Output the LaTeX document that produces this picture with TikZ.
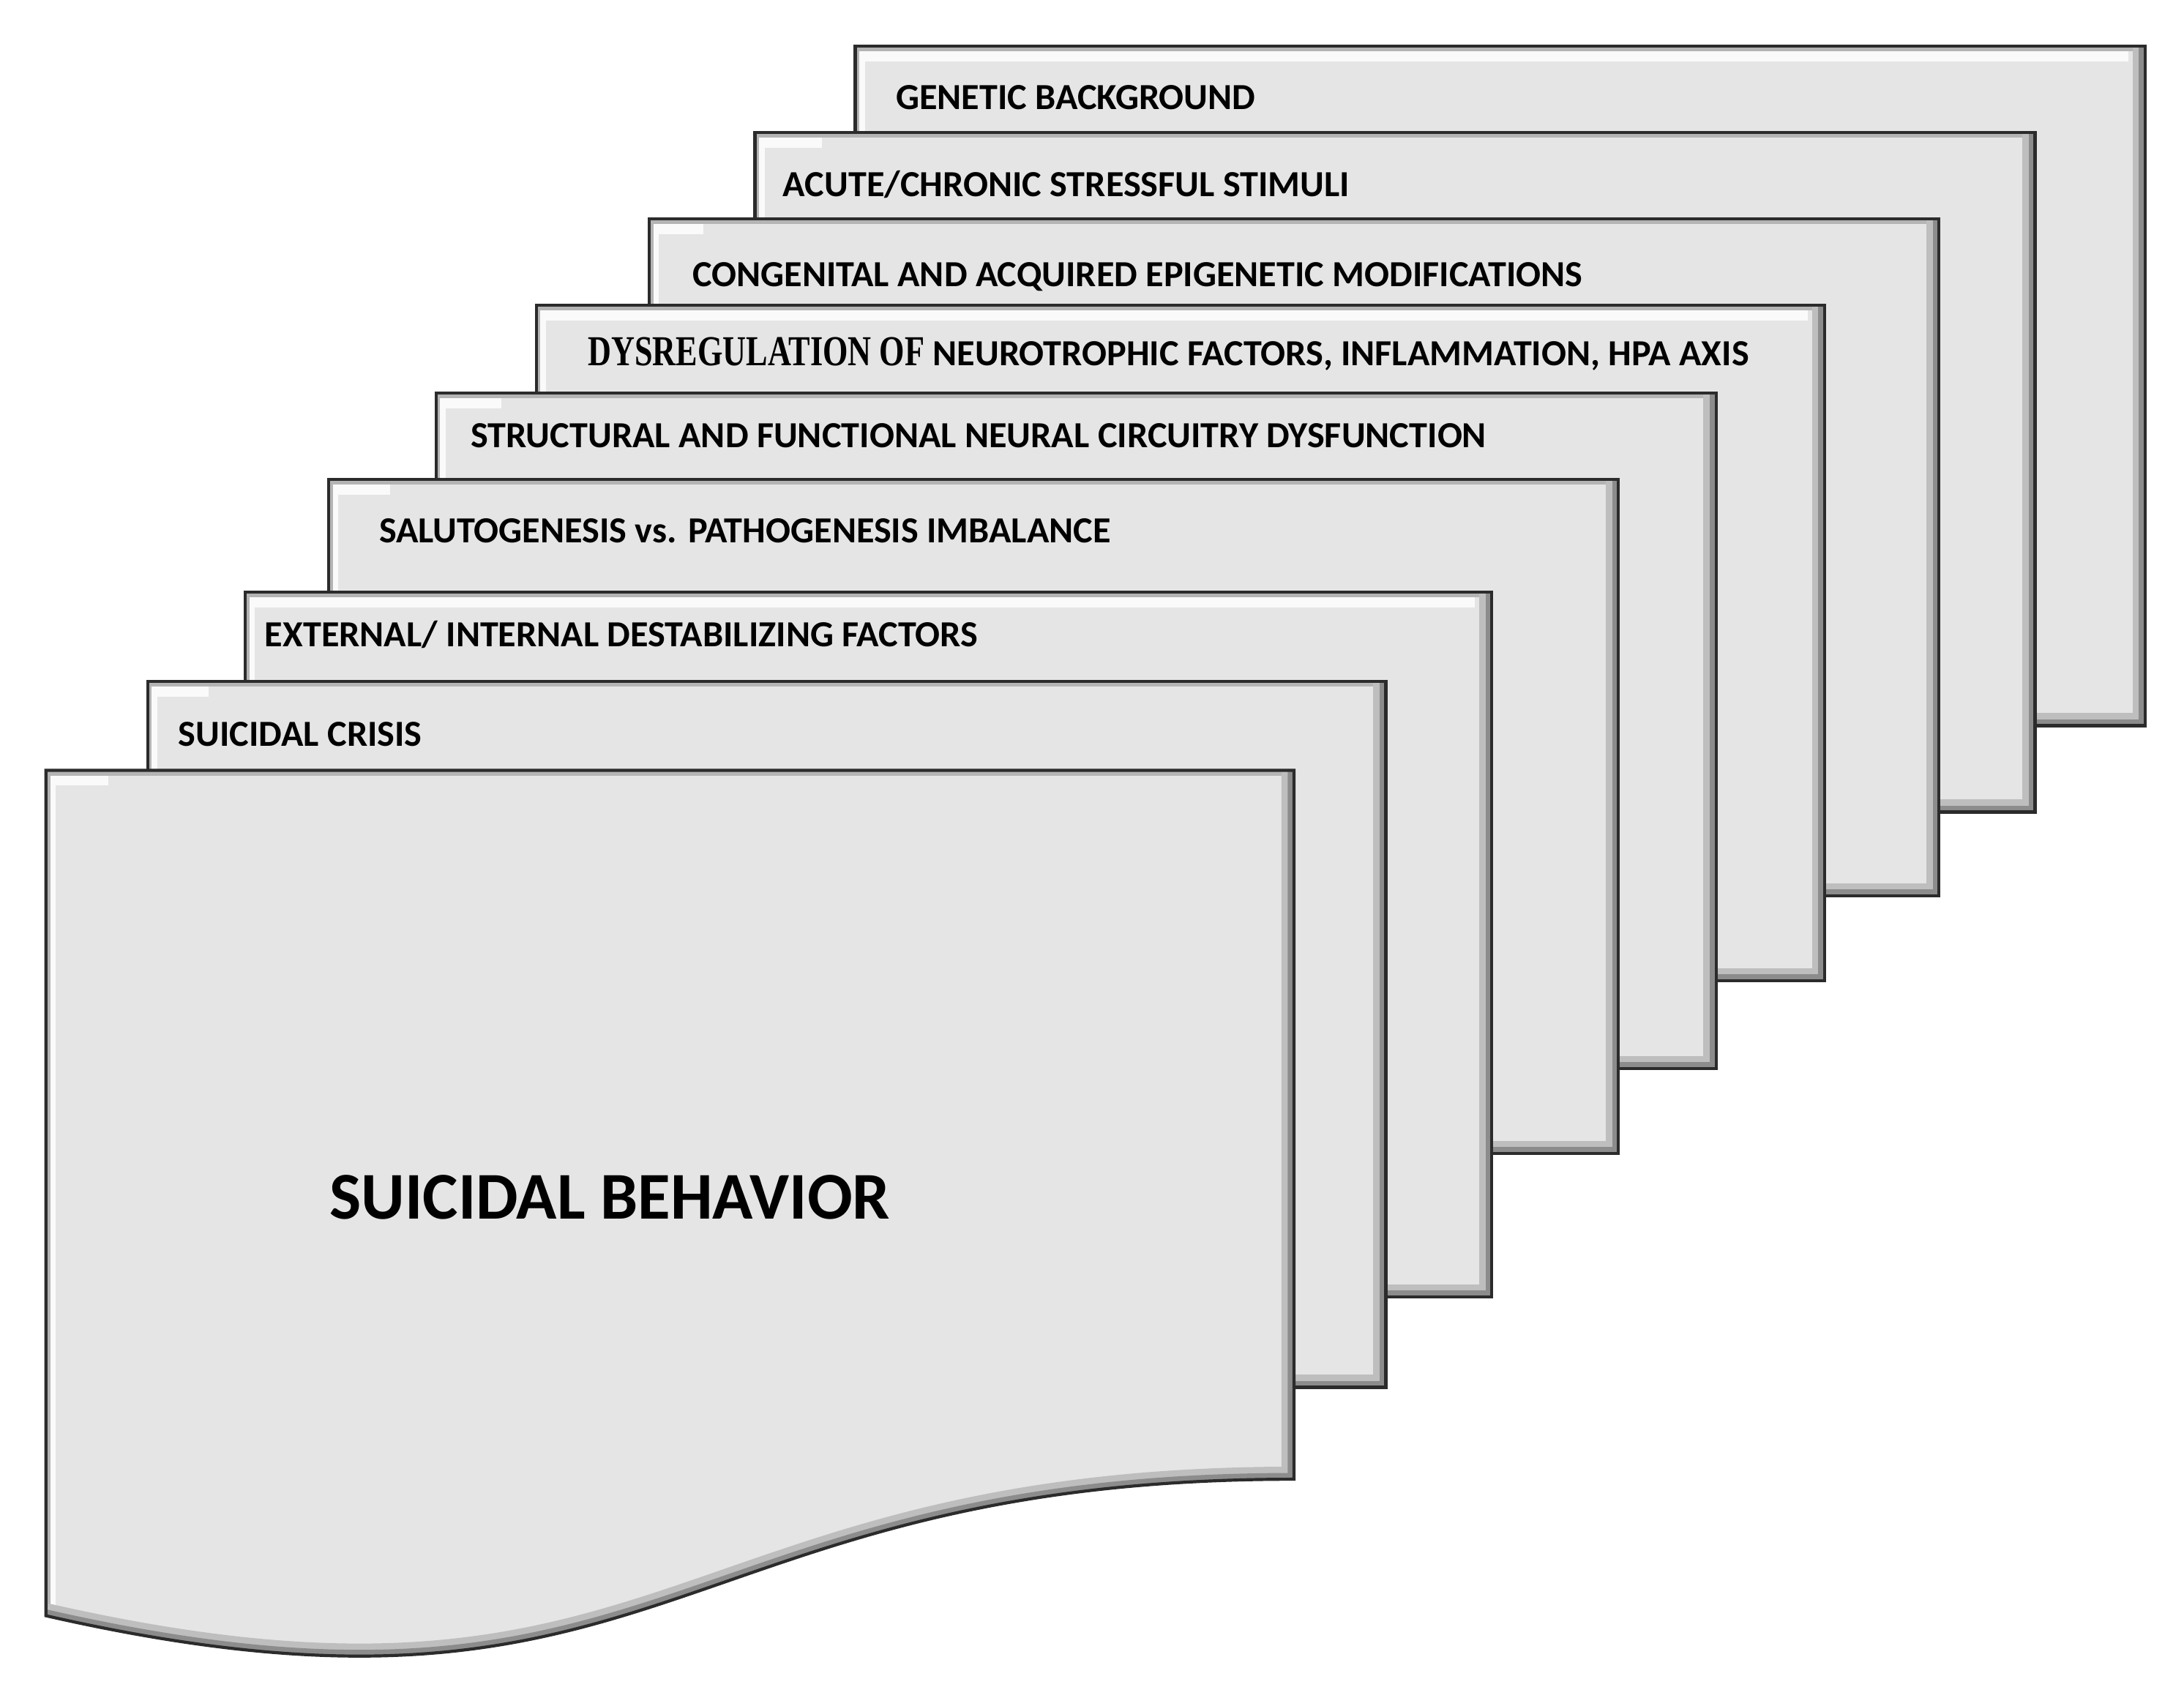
\documentclass[tikz,border=0pt]{standalone}
\usepackage{fontspec}
\newfontfamily\labfont{Carlito}
\newfontfamily\labserif{Liberation Serif}
\definecolor{boxfill}{HTML}{E5E5E5}
\definecolor{edgecol}{HTML}{2B2B2B}
\definecolor{shadelight}{HTML}{BEBEBE}
\definecolor{shadedark}{HTML}{8C8C8C}
\definecolor{hilite}{HTML}{FAFAFA}
\definecolor{hilgray}{HTML}{B4B4B4}
\tikzset{
  lab/.style={font=\labfont\bfseries\fontsize{26.4}{30}\selectfont, anchor=base west, inner sep=0pt, text=black},
  biglab/.style={font=\labfont\bfseries\fontsize{48}{54}\selectfont, anchor=base west, inner sep=0pt, text=black},
  edgeline/.style={draw=edgecol, line width=2.2pt, line join=miter},
  lightband/.style={line width=14pt, color=hilite},
  lightedge/.style={line width=6pt, color=hilgray},
  shadowwide/.style={line width=18pt, color=shadelight},
  shadownarrow/.style={line width=9pt, color=shadedark},
}
% #1 left, #2 top, #3 right, #4 bottom, #5 x where the top highlight ends
\newcommand\bevbox[5]{%
  \fill[boxfill] (#1,#2) rectangle (#3,#4);
  \begin{scope}
    \clip (#1,#2) rectangle (#3,#4);
    \draw[lightband] (#1,#4) -- (#1,#2);
    \draw[line width=22pt, color=hilite] (#1,#2) -- (#5,#2);
    \draw[lightedge] (#1,#4) -- (#1,#2);
    \draw[line width=8pt, color=hilgray] (#1,#2) -- (#3,#2);
    \draw[shadowwide] (#3,#2) -- (#3,#4) -- (#1,#4);
    \draw[shadownarrow] (#3,#2) -- (#3,#4) -- (#1,#4);
  \end{scope}
  \draw[edgeline] (#1,#2) rectangle (#3,#4);
}
\begin{document}
\begin{tikzpicture}[x=1pt,y=-1pt]
\useasboundingbox (0,0) rectangle (1568,1219);
\fill[white] (0,0) rectangle (1568,1219);

% back to front
\bevbox{614}{33}{1540}{521}{1528}
\bevbox{542}{95}{1461}{583}{590}
\bevbox{466}{157}{1392}{643}{505}
\bevbox{385}{219}{1310}{704}{1298}
\bevbox{313}{282}{1232}{767}{360}
\bevbox{236}{344}{1162}{828}{280}
\bevbox{176}{425}{1071}{931}{1059}
\bevbox{106}{489}{995}{996}{150}

% front document shape
\fill[boxfill] (33,553) -- (929,553) -- (929,1062)
   .. controls (481,1062) and (481,1262) .. (33,1160) -- cycle;
\begin{scope}
  \clip (33,553) -- (929,553) -- (929,1062)
     .. controls (481,1062) and (481,1262) .. (33,1160) -- cycle;
  \draw[lightband] (33,1170) -- (33,553);
  \draw[line width=22pt, color=hilite] (33,553) -- (78,553);
  \draw[lightedge] (33,1170) -- (33,553);
  \draw[line width=8pt, color=hilgray] (33,553) -- (929,553);
  \draw[shadowwide] (929,553) -- (929,1062)
     .. controls (481,1062) and (481,1262) .. (33,1160);
  \draw[shadownarrow] (929,553) -- (929,1062)
     .. controls (481,1062) and (481,1262) .. (33,1160);
\end{scope}
\draw[edgeline] (33,553) -- (929,553) -- (929,1062)
   .. controls (481,1062) and (481,1262) .. (33,1160) -- cycle;

% labels
\node[lab] (t1) at (643,78.5) {GENETIC BACKGROUND};
\node[lab] (t2) at (562,141) {ACUTE/CHRONIC STRESSFUL STIMULI};
\node[lab] (t3) at (497,205.5) {CONGENITAL AND ACQUIRED EPIGENETIC MODIFICATIONS};
\node[lab] (t4) at (422,262.5) {\scalebox{0.88}[1.16]{\labserif\bfseries DYSREGULATION OF} NEUROTROPHIC FACTORS, INFLAMMATION, HPA AXIS};
\node[lab] (t5) at (338,321.5) {STRUCTURAL AND FUNCTIONAL NEURAL CIRCUITRY DYSFUNCTION};
\node[lab] (t6) at (272,389.5) {SALUTOGENESIS vs. PATHOGENESIS IMBALANCE};
\node[lab] (t7) at (190,464.5) {EXTERNAL/ INTERNAL DESTABILIZING FACTORS};
\node[lab] (t8) at (128,535.5) {SUICIDAL CRISIS};
\node[biglab] (t9) at (236.5,875) {SUICIDAL BEHAVIOR};
\end{tikzpicture}
\end{document}
